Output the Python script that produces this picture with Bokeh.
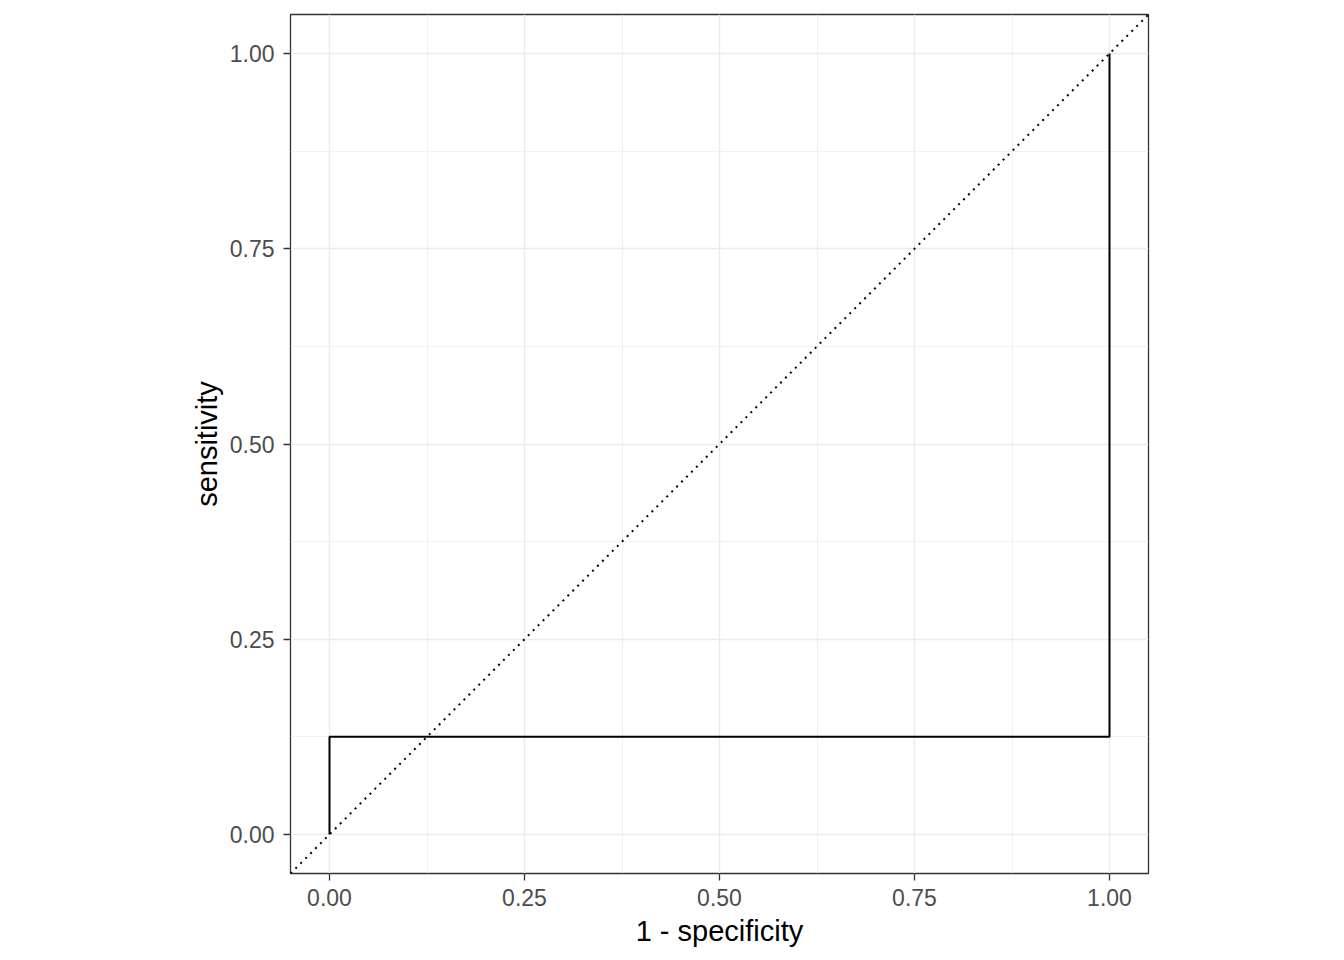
from bokeh.plotting import figure
from bokeh.models import Range1d, FixedTicker, Slope, CustomJSTickFormatter
from bokeh.embed import file_html
from bokeh.resources import INLINE

# ROC curve data
fpr = [0.0, 0.0, 1.0, 1.0]          # 1 - specificity
tpr = [0.0, 0.125, 0.125, 1.0]      # sensitivity
major_ticks = [0.0, 0.25, 0.5, 0.75, 1.0]
minor_ticks = [0.125, 0.375, 0.625, 0.875]
x_title = "1 - specificity"
y_title = "sensitivity"

p = figure(width=1328, height=944, output_backend="svg", toolbar_location=None,
           frame_width=858, frame_height=859,
           min_border_left=290, min_border_right=180, min_border_top=14, min_border_bottom=71,
           x_range=Range1d(-0.05, 1.05), y_range=Range1d(-0.05, 1.05))

p.background_fill_color = "white"
p.border_fill_color = "white"
p.outline_line_color = "#333333"
p.outline_line_width = 1.3

for ax in (p.xaxis, p.yaxis):
    ax.ticker = FixedTicker(ticks=major_ticks, minor_ticks=minor_ticks)
    ax.formatter = CustomJSTickFormatter(code="return tick.toFixed(2);")
    ax.axis_line_color = None
    ax.major_tick_line_color = "#333333"
    ax.major_tick_line_width = 1.3
    ax.major_tick_out = 7
    ax.major_tick_in = 0
    ax.minor_tick_line_color = None
    ax.major_label_text_font = "Liberation Sans"
    ax.major_label_text_font_size = "23px"
    ax.major_label_text_color = "#4D4D4D"
    ax.axis_label_text_font = "Liberation Sans"
    ax.axis_label_text_font_size = "29px"
    ax.axis_label_text_font_style = "normal"
    ax.axis_label_text_color = "black"

p.xaxis.axis_label = x_title
p.yaxis.axis_label = y_title
p.xaxis.major_label_standoff = 8
p.yaxis.major_label_standoff = 9
p.xaxis.axis_label_standoff = 6
p.yaxis.axis_label_standoff = 4

for g in (p.xgrid, p.ygrid):
    g.grid_line_color = "#EBEBEB"
    g.grid_line_width = 1.4
    g.minor_grid_line_color = "#EBEBEB"
    g.minor_grid_line_width = 0.7

# diagonal reference line
p.add_layout(Slope(gradient=1, y_intercept=0, line_color="black", line_width=2,
                   line_dash="2 5"))

p.line(fpr, tpr, line_color="black", line_width=2)

open("out.html", "w").write(file_html(p, INLINE))
